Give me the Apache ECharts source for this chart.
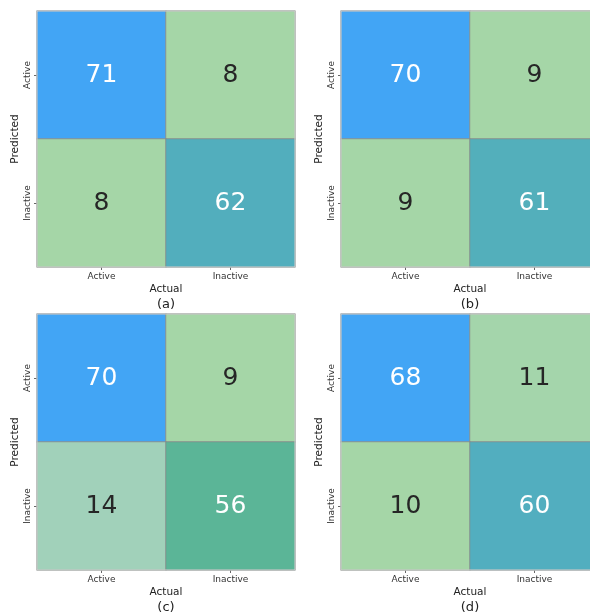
<!DOCTYPE html>
<html>
<head>
<meta charset="utf-8">
<script src="https://cdn.jsdelivr.net/npm/echarts@6/dist/echarts.min.js"></script>
<style>
  html, body { margin: 0; padding: 0; background: #ffffff; overflow: hidden; }
  #chart { width: 610px; height: 612px; }
</style>
</head>
<body>
<div id="chart"></div>
<script>
// Class labels shared by both axes
const categories = ['Active', 'Inactive'];
// Panel captions
const panelTags = ['(a)', '(b)', '(c)', '(d)'];
// Confusion matrices: rows = predicted class, columns = actual class
const matA = [[71, 8], [8, 62]];
const matB = [[70, 9], [9, 61]];
const matC = [[70, 9], [14, 56]];
const matD = [[68, 11], [10, 60]];
const matrices = [matA, matB, matC, matD];

const FONT = 'DejaVu Sans';

// Colour ramp: light green -> mint -> sea green -> teal -> blue
const anchors = [
  [0.00, [165, 214, 167]],
  [0.08, [161, 209, 186]],
  [0.77, [91, 181, 151]],
  [0.857, [82, 174, 189]],
  [1.00, [66, 165, 245]]
];
function rampColor(t) {
  for (let i = 1; i < anchors.length; i++) {
    if (t <= anchors[i][0]) {
      const [t0, c0] = anchors[i - 1], [t1, c1] = anchors[i];
      const f = (t - t0) / (t1 - t0);
      const c = c0.map((v, k) => Math.round(v + (c1[k] - v) * f));
      return 'rgb(' + c.join(',') + ')';
    }
  }
  return 'rgb(' + anchors[anchors.length - 1][1].join(',') + ')';
}
const ramp = [];
for (let i = 0; i <= 200; i++) ramp.push(rampColor(i / 200));

// Panel frames (plot area of each heatmap); the right column runs past the page edge
const frames = [
  { left: 37, top: 11 },
  { left: 341, top: 11 },
  { left: 37, top: 314 },
  { left: 341, top: 314 }
];
const W = 258, H = 256;

const grids = [], xAxes = [], yAxes = [], series = [], visualMaps = [], graphics = [];

matrices.forEach((m, i) => {
  const flat = m.flat();
  const lo = Math.min(...flat), hi = Math.max(...flat);
  grids.push({ left: frames[i].left, top: frames[i].top, width: W, height: H, show: true,
    borderColor: '#d0d0d0', borderWidth: 1, backgroundColor: 'transparent', z: 5 });
  xAxes.push({
    type: 'category', gridIndex: i, data: categories,
    axisLine: { show: false },
    axisTick: { show: true, alignWithLabel: true, length: 3, lineStyle: { color: '#666' } },
    axisLabel: { fontFamily: FONT, fontSize: 9, color: '#333', margin: 5 },
    splitLine: { show: false },
    name: 'Actual', nameLocation: 'middle', nameGap: 17,
    nameTextStyle: { fontFamily: FONT, fontSize: 10.5, color: '#222' }
  });
  yAxes.push({
    type: 'category', gridIndex: i, data: categories, inverse: true,
    axisLine: { show: false },
    axisTick: { show: true, alignWithLabel: true, length: 3, lineStyle: { color: '#666' } },
    axisLabel: { fontFamily: FONT, fontSize: 9, color: '#333', rotate: 90, margin: 5 },
    splitLine: { show: false },
    name: 'Predicted', nameLocation: 'middle', nameGap: 16, nameRotate: 90,
    nameTextStyle: { fontFamily: FONT, fontSize: 10.5, color: '#222' }
  });
  const data = [];
  m.forEach((row, r) => row.forEach((v, c) => {
    const t = (v - lo) / (hi - lo);
    data.push({ value: [c, r, v], label: { color: t >= 0.5 ? '#ffffff' : '#262626' } });
  }));
  series.push({
    type: 'heatmap', xAxisIndex: i, yAxisIndex: i, data: data,
    label: { show: true, fontFamily: FONT, fontSize: 25,
      formatter: p => String(p.value[2]) },
    itemStyle: { borderColor: '#8a8a8a', borderWidth: 0.8 },
    emphasis: { disabled: true }
  });
  visualMaps.push({ type: 'continuous', show: false, seriesIndex: i, dimension: 2,
    min: lo, max: hi, inRange: { color: ramp } });
  graphics.push({ type: 'text', x: frames[i].left + W / 2, y: frames[i].top + H + 38,
    style: { text: panelTags[i], font: '13px "DejaVu Sans"', fill: '#222',
      textAlign: 'center', textVerticalAlign: 'middle' } });
});

const chart = echarts.init(document.getElementById('chart'), null, { renderer: 'canvas' });
chart.setOption({
  animation: false,
  backgroundColor: '#ffffff',
  grid: grids, xAxis: xAxes, yAxis: yAxes,
  visualMap: visualMaps, series: series, graphic: graphics
});
</script>
</body>
</html>
